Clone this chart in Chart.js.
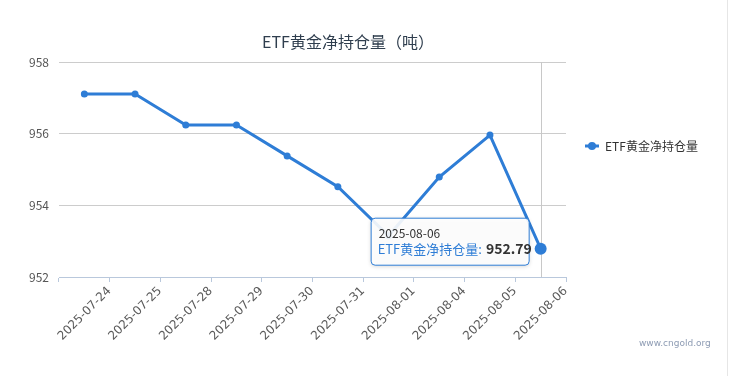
<!DOCTYPE html>
<html>
<head>
<meta charset="utf-8">
<script src="https://cdn.jsdelivr.net/npm/chart.js@4"></script>
<style>
    html, body { margin: 0; padding: 0; background: #fff; }
    #wrap { position: relative; width: 734px; height: 376px; }
    #wrap::after { content: ''; position: absolute; left: 727px; top: 0; width: 1px; height: 376px; background: #e6e6e6; }
</style>
</head>
<body>
<div id="wrap"><canvas id="etfChart" width="734" height="376"></canvas></div>
<script>
const dates = ['2025-07-24', '2025-07-25', '2025-07-28', '2025-07-29', '2025-07-30', '2025-07-31', '2025-08-01', '2025-08-04', '2025-08-05', '2025-08-06'];
const holdings = [957.11, 957.11, 956.24, 956.24, 955.38, 954.52, 953.15, 954.79, 955.96, 952.79];
const yTicks = [952, 954, 956, 958];
const seriesName = 'ETF黄金净持仓量';
const titleText = 'ETF黄金净持仓量（吨）';

const FONT = '"Microsoft YaHei", "Noto Sans CJK SC", sans-serif';
const BLUE = '#2e7dd6';
const activeIndex = dates.length - 1;

// title, legend, crosshair, tooltip and watermark drawn by hand
const decorations = {
    id: 'decorations',
    afterDatasetsDraw(chart) {
        const ctx = chart.ctx;
        const area = chart.chartArea;
        const pt = chart.getDatasetMeta(0).data[activeIndex];

        ctx.save();
        // crosshair
        ctx.strokeStyle = '#c8c8c8';
        ctx.lineWidth = 1;
        ctx.beginPath();
        ctx.moveTo(Math.round(pt.x) + 0.5, area.top);
        ctx.lineTo(Math.round(pt.x) + 0.5, area.bottom);
        ctx.stroke();
        ctx.restore();
    },
    afterDraw(chart) {
        const ctx = chart.ctx;
        const pt = chart.getDatasetMeta(0).data[activeIndex];
        ctx.save();

        // title
        ctx.fillStyle = '#2f3e4e';
        ctx.font = '16px ' + FONT;
        ctx.textAlign = 'center';
        ctx.textBaseline = 'middle';
        ctx.fillText(titleText, 348, 42);

        // legend
        ctx.strokeStyle = BLUE;
        ctx.lineWidth = 3;
        ctx.beginPath();
        ctx.moveTo(585, 146);
        ctx.lineTo(599, 146);
        ctx.stroke();
        ctx.fillStyle = BLUE;
        ctx.beginPath();
        ctx.arc(592, 146, 4, 0, Math.PI * 2);
        ctx.fill();
        ctx.fillStyle = '#333';
        ctx.font = '12px ' + FONT;
        ctx.textAlign = 'left';
        ctx.fillText(seriesName, 605, 146);

        // watermark
        ctx.fillStyle = '#8d9bb3';
        ctx.font = '9px "DejaVu Sans", sans-serif';
        ctx.fillText('www.cngold.org', 639, 344);

        // bigger active point
        ctx.fillStyle = BLUE;
        ctx.beginPath();
        ctx.arc(pt.x, pt.y, 6, 0, Math.PI * 2);
        ctx.fill();

        // tooltip box
        const w = 158, h = 47;
        const bx = pt.x - 170, by = pt.y - 31;
        ctx.shadowColor = 'rgba(0,0,0,0.2)';
        ctx.shadowBlur = 4;
        ctx.shadowOffsetY = 1;
        ctx.fillStyle = 'rgba(255,255,255,0.9)';
        ctx.strokeStyle = BLUE;
        ctx.lineWidth = 1;
        ctx.beginPath();
        ctx.roundRect(bx + 0.5, by + 0.5, w, h, 4);
        ctx.fill();
        ctx.shadowColor = 'transparent';
        ctx.stroke();

        ctx.fillStyle = '#333';
        ctx.font = '12px ' + FONT;
        ctx.textAlign = 'left';
        ctx.fillText(dates[activeIndex], bx + 8, by + 16);
        const label = seriesName + ':';
        ctx.fillStyle = BLUE;
        ctx.font = '13px ' + FONT;
        ctx.fillText(label, bx + 7, by + 31);
        const lw = ctx.measureText(label).width;
        ctx.fillStyle = '#333';
        ctx.font = 'bold 14px ' + FONT;
        ctx.fillText(holdings[activeIndex].toFixed(2), bx + 11 + lw, by + 31);

        ctx.restore();
    }
};

new Chart(document.getElementById('etfChart'), {
    type: 'line',
    data: {
        labels: dates,
        datasets: [{
            label: seriesName,
            data: holdings,
            borderColor: BLUE,
            backgroundColor: BLUE,
            borderWidth: 3,
            pointRadius: 3.5,
            pointHoverRadius: 3.5,
            pointBorderWidth: 0,
            tension: 0
        }]
    },
    options: {
        responsive: false,
        animation: false,
        events: [],
        layout: { padding: { top: 62, right: 168, left: 0, bottom: 0 } },
        plugins: {
            legend: { display: false },
            title: { display: false },
            tooltip: { enabled: false }
        },
        scales: {
            x: {
                offset: true,
                grid: {
                    offset: true,
                    drawOnChartArea: false,
                    drawTicks: true,
                    tickLength: 5,
                    color: '#b9c8dc'
                },
                border: { display: true, color: '#b9c8dc', width: 1 },
                ticks: {
                    minRotation: 45,
                    maxRotation: 45,
                    autoSkip: false,
                    labelOffset: 25,
                    padding: 2,
                    color: '#5a5a5a',
                    font: { size: 12, family: '"DejaVu Sans", sans-serif' }
                },
                afterFit: (scale) => { scale.height = 99; }
            },
            y: {
                min: yTicks[0],
                max: yTicks[yTicks.length - 1],
                afterBuildTicks: (scale) => { scale.ticks = yTicks.map(v => ({ value: v })); },
                grid: { color: '#cccccc', drawTicks: false },
                border: { display: false },
                ticks: {
                    padding: 10,
                    color: '#555',
                    font: { size: 12, family: FONT }
                },
                afterFit: (scale) => { scale.width = 59; }
            }
        }
    },
    plugins: [decorations]
});
</script>
</body>
</html>
